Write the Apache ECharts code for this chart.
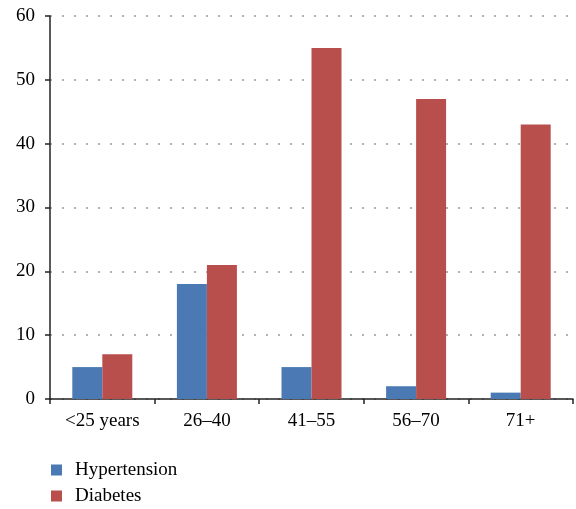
<!DOCTYPE html>
<html><head><meta charset="utf-8">
<script src="https://cdn.jsdelivr.net/npm/echarts@6/dist/echarts.min.js"></script>
<style>html,body{margin:0;padding:0;background:#fff}#c{width:576px;height:509px}</style>
</head><body><div id="c"></div>
<script>
const categories = ['<25 years', '26\u201340', '41\u201355', '56\u201370', '71+'];
const hypertension = [5, 18, 5, 2, 1];
const diabetes = [7, 21, 55, 47, 43];
const yTicks = [0, 10, 20, 30, 40, 50, 60];

const font = 'Liberation Serif';
const chart = echarts.init(document.getElementById('c'));
chart.setOption({
  animation: false,
  textStyle: { fontFamily: font },
  grid: { left: 50, right: 3, top: 16, bottom: 110, containLabel: false },
  legend: {
    orient: 'vertical', left: 51, top: 457, padding: 0,
    width: 300, height: 52,
    itemWidth: 11, itemHeight: 11, itemGap: 0,
    icon: 'rect',
    textStyle: { fontFamily: font, fontSize: 19, color: '#000', lineHeight: 26, padding: [0, 0, 0, 8] },
    data: ['Hypertension', 'Diabetes']
  },
  xAxis: {
    type: 'category', data: categories,
    axisLine: { lineStyle: { color: '#222', width: 1.5 } },
    axisTick: { show: true, length: 5, lineStyle: { color: '#222', width: 1.5 } },
    axisLabel: { fontFamily: font, fontSize: 19, color: '#000', margin: 13 }
  },
  yAxis: {
    type: 'value', min: yTicks[0], max: yTicks[yTicks.length - 1], interval: 10,
    axisLine: { show: true, lineStyle: { color: '#222', width: 1.5 } },
    axisTick: { show: true, length: 5, lineStyle: { color: '#222', width: 1.5 } },
    axisLabel: { fontFamily: font, fontSize: 19, color: '#000', margin: 15 },
    splitLine: { show: true, lineStyle: { color: '#999', type: [2, 10], width: 1.5 } }
  },
  series: [
    { name: 'Hypertension', type: 'bar', data: hypertension, barWidth: 30, barGap: '0%',
      itemStyle: { color: '#4a79b3' } },
    { name: 'Diabetes', type: 'bar', data: diabetes, barWidth: 30, barGap: '0%',
      itemStyle: { color: '#b84f4d' } }
  ]
});
</script></body></html>
